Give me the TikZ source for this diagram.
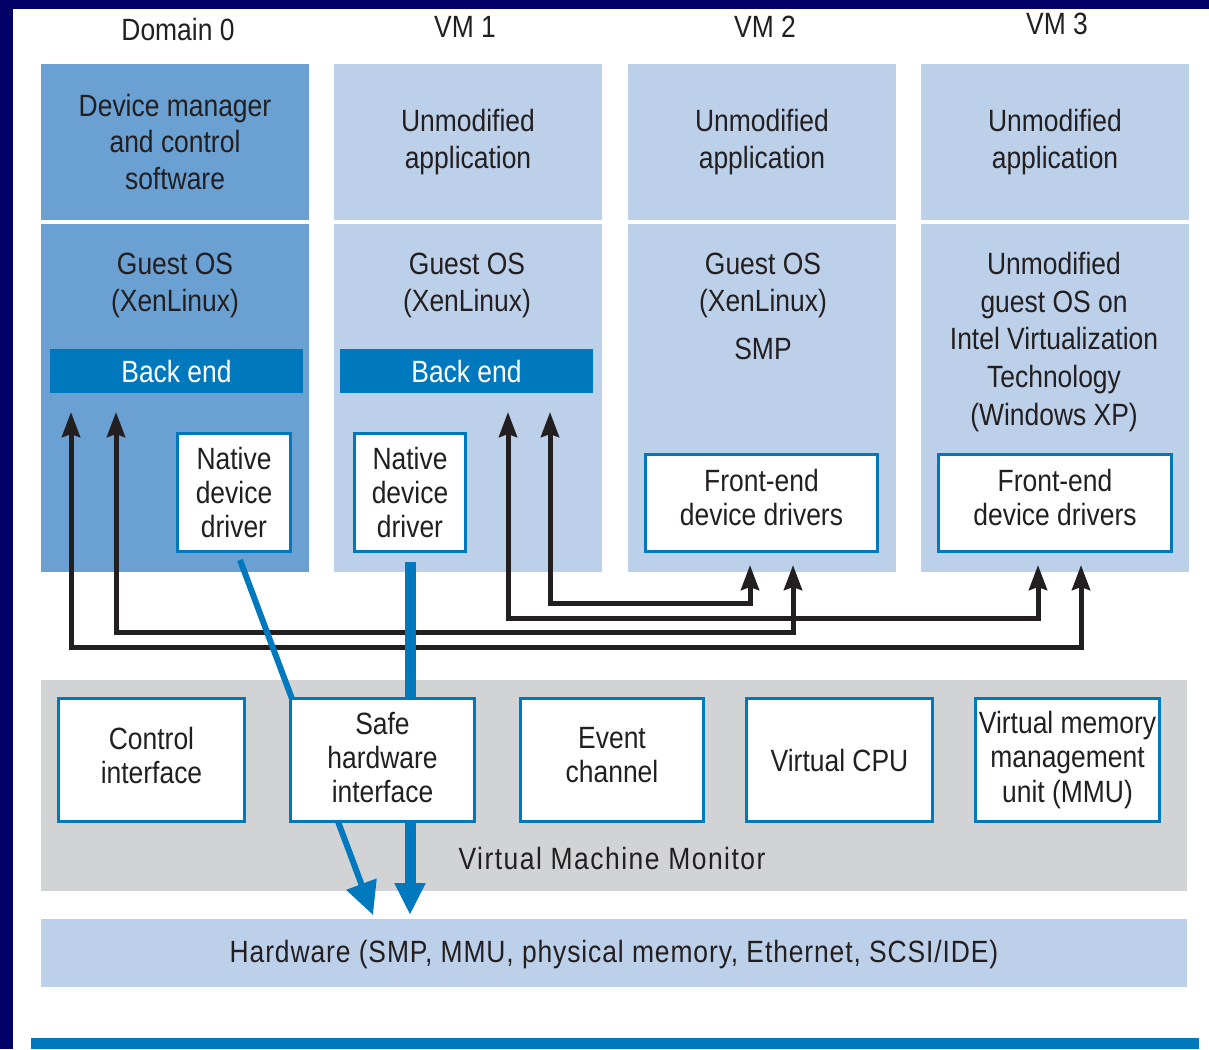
\documentclass[tikz,border=0pt]{standalone}
\usepackage{fontspec}
\setmainfont{Liberation Sans}[FakeStretch=0.86]
\usetikzlibrary{arrows.meta}

\definecolor{navy}{RGB}{0,0,102}
\definecolor{domblue}{RGB}{106,160,210}
\definecolor{vmblue}{RGB}{188,208,234}
\definecolor{xenblue}{RGB}{0,120,190}
\definecolor{vmmgray}{RGB}{209,211,212}
\definecolor{ink}{RGB}{35,31,32}

\tikzset{
  txt/.style={text=ink, align=center, font=\fontsize{17.5}{21}\selectfont},
  boxtxt/.style={text=ink, align=center, font=\fontsize{17.5}{19.4}\selectfont},
  apppart/.style={txt, inner sep=0, minimum width=5.36cm, minimum height=3.12cm},
  ospart/.style={inner sep=0, minimum width=5.36cm, minimum height=6.96cm},
  backend/.style={fill=xenblue, text=white, inner sep=0, minimum width=5.06cm,
    minimum height=0.88cm, font=\fontsize{17.5}{21}\selectfont},
  drvbox/.style={boxtxt, draw=xenblue, line width=1.9pt, fill=white, inner sep=0},
  splitlink/.style={draw=ink, line width=0.1cm,
    {Stealth[length=0.5cm,width=0.36cm,inset=0.06cm]}-{Stealth[length=0.5cm,width=0.36cm,inset=0.06cm]}},
  hwthin/.style={draw=xenblue, line width=0.12cm, -{Triangle[length=0.66cm,width=0.62cm]}},
  hwthick/.style={draw=xenblue, line width=0.22cm, -{Triangle[length=0.64cm,width=0.58cm]}}
}

\begin{document}
\begin{tikzpicture}[x=0.02cm,y=-0.02cm]
% page and frame
\useasboundingbox (0,0) rectangle (1209,1049);
\fill[white] (0,0) rectangle (1209,1049);
\fill[navy] (0,0) rectangle (1209,9);
\fill[navy] (0,0) rectangle (13,1049);
\fill[xenblue] (31,1038) rectangle (1199,1049);

% headings
\node[txt] (h0) at (178,30) {Domain 0};
\node[txt] (h1) at (465,27) {VM 1};
\node[txt] (h2) at (765,27) {VM 2};
\node[txt] (h3) at (1057,24) {VM 3};

% the four domains
\node[apppart,fill=domblue] (d0app) at (175,142) {Device manager\\and control\\software};
\node[ospart,fill=domblue] (d0os) at (175,398) {};
\node[apppart,fill=vmblue] (v1app) at (468,142) {Unmodified\\application};
\node[ospart,fill=vmblue] (v1os) at (468,398) {};
\node[apppart,fill=vmblue] (v2app) at (762,142) {Unmodified\\application};
\node[ospart,fill=vmblue] (v2os) at (762,398) {};
\node[apppart,fill=vmblue] (v3app) at (1055,142) {Unmodified\\application};
\node[ospart,fill=vmblue] (v3os) at (1055,398) {};

\node[txt] (d0guest) at (175,285) {Guest OS\\(XenLinux)};
\node[txt] (v1guest) at (467,285) {Guest OS\\(XenLinux)};
\node[txt] (v2guest) at (763,285) {Guest OS\\(XenLinux)};
\node[txt] (v2smp) at (763,349) {SMP};
\node[txt,font=\fontsize{17.5}{21.5}\selectfont] (v3guest) at (1054,342)
  {Unmodified\\guest OS on\\Intel Virtualization\\Technology\\(Windows XP)};

% back ends and drivers
\node[backend] (be0) at (176.5,371) {Back end};
\node[backend] (be1) at (466.5,371) {Back end};
\node[drvbox,minimum width=2.26cm,minimum height=2.36cm] (nd0) at (234,492.5) {Native\\device\\driver};
\node[drvbox,minimum width=2.22cm,minimum height=2.36cm] (nd1) at (410,492.5) {Native\\device\\driver};
\node[drvbox,minimum width=4.64cm,minimum height=1.94cm,text depth=0.24cm] (fe2) at (761.5,503) {Front-end\\device drivers};
\node[drvbox,minimum width=4.66cm,minimum height=1.94cm,text depth=0.24cm] (fe3) at (1055,503) {Front-end\\device drivers};

% hypervisor and hardware
\node[fill=vmmgray,inner sep=0,minimum width=22.92cm,minimum height=4.22cm] (vmm) at (614,785.5) {};
\node[txt,font=\fontsize{17.5}{21}\selectfont\addfontfeature{LetterSpace=4.8}] (vmmlbl) at (612,858) {Virtual Machine Monitor};
\node[txt,font=\fontsize{17.5}{21}\selectfont\addfontfeature{LetterSpace=2.9},
  fill=vmblue,inner sep=0,minimum width=22.92cm,minimum height=1.36cm,text depth=0.08cm] (hw) at (614,953)
  {Hardware (SMP, MMU, physical memory, Ethernet, SCSI/IDE)};

% split-driver links between back ends and front ends
\coordinate (d0a) at (71,412);
\coordinate (d0b) at (116,412);
\coordinate (v1a) at (508,412);
\coordinate (v1b) at (550,412);
\coordinate (v2a) at (750,565);
\coordinate (v2b) at (793,565);
\coordinate (v3a) at (1038,565);
\coordinate (v3b) at (1081,565);
\draw[splitlink] (d0a) -- ++(0,235) -| (v3b);
\draw[splitlink] (d0b) -- ++(0,220) -| (v2b);
\draw[splitlink] (v1a) -- ++(0,206) -| (v3a);
\draw[splitlink] (v1b) -- ++(0,191) -| (v2a);

% native drivers reach the hardware
\coordinate (p0) at (240,560);
\coordinate (p1) at (410,562);
\coordinate (q0) at (373,915);
\coordinate (q1) at (410,915);
\draw[hwthin] (p0) -- (q0);
\draw[hwthick] (p1) -- (q1);

% hypervisor services
\node[drvbox,minimum width=3.72cm,minimum height=2.46cm,text depth=0.2cm] (ctl) at (151.5,760) {Control\\interface};
\node[drvbox,minimum width=3.68cm,minimum height=2.46cm,text depth=0.12cm] (safe) at (382.5,760) {Safe\\hardware\\interface};
\node[drvbox,minimum width=3.66cm,minimum height=2.46cm,text depth=0.2cm] (evt) at (612,760) {Event\\channel};
\node[drvbox,minimum width=3.72cm,minimum height=2.46cm] (vcpu) at (839.5,760) {Virtual CPU};
\node[drvbox,minimum width=3.68cm,minimum height=2.46cm] (vmmu) at (1067.5,760) {Virtual memory\\management\\unit (MMU)};
\end{tikzpicture}
\end{document}
